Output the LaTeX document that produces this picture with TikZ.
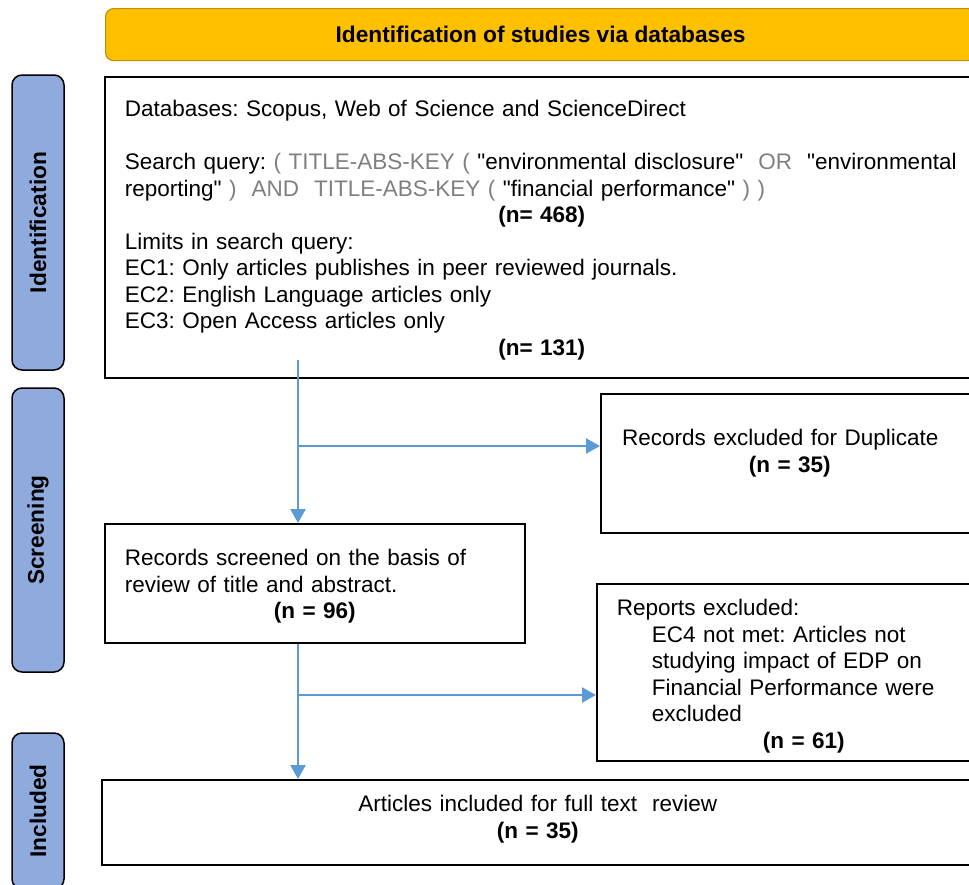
\documentclass[tikz,border=0pt]{standalone}
\usepackage{fontspec}
\setmainfont{Liberation Sans}[Ligatures=TeXOff]
\usepackage{xcolor}
\usetikzlibrary{arrows.meta}

\definecolor{headgold}{HTML}{FFC000}
\definecolor{headedge}{HTML}{BF9000}
\definecolor{stageblue}{HTML}{8FAADC}
\definecolor{flowblue}{HTML}{5B9BD5}
\definecolor{querygrey}{HTML}{7F7F7F}

\begin{document}
\frenchspacing
\hyphenpenalty=10000
\begin{tikzpicture}[x=1pt,y=-1pt,
  font=\fontsize{22.5}{26.5}\selectfont,
  stage/.style={draw=black, line width=1.5pt, fill=stageblue, rounded corners=10pt,
    minimum height=52pt, inner sep=0pt, rotate=90,
    font=\fontsize{22.7}{26.5}\selectfont\bfseries},
  flowbox/.style={draw=black, line width=1.6pt, anchor=north west, inner ysep=0pt, inner xsep=20pt},
  flow/.style={draw=flowblue, line width=2.4pt, -{Triangle[length=14pt,width=15pt]}}]
\useasboundingbox (0,0) rectangle (969,884);

% header
\node (head) [anchor=north west, draw=headedge, line width=1.2pt, fill=headgold, rounded corners=8pt,
  minimum width=870pt, minimum height=52pt, font=\fontsize{22.7}{26.5}\selectfont\bfseries] at (105,8)
  {Identification of studies via databases};

% stages on the left
\node (ident) [stage, minimum width=295pt] at (38,222.5) {Identification};
\node (screening) [stage, minimum width=284pt] at (38,530) {Screening};
\node (included) [stage, minimum width=156pt] at (38,811) {Included};

% boxes
\node (search) [flowbox, text width=834pt, align=left, text height=40pt, text depth=261pt] at (104,76) {
Databases: Scopus, Web of Science and ScienceDirect\\[26.5pt]
\makebox[\linewidth][l]{Search query: {\color{querygrey}( TITLE-ABS-KEY (} "environmental disclosure"\ \ {\color{querygrey}OR}\ \ "environmental}\\
reporting"\ {\color{querygrey})\ \ AND\ \ TITLE-ABS-KEY (} "financial performance"\ {\color{querygrey}) )}\par
\centerline{\textbf{(n= 468)}}
\noindent Limits in search query:\\
EC1: Only articles publishes in peer reviewed journals.\\
EC2: English Language articles only\\
EC3: Open Access articles only\par
\centerline{\textbf{(n= 131)}}};

\node (dup) [flowbox, text width=338pt, align=center, text height=52pt, text depth=87pt] at (600,393) {
\makebox[\linewidth][c]{Records excluded for Duplicate\kern19pt}\\
\textbf{(n = 35)}};

\node (screen) [flowbox, text width=380pt, align=left, text height=42pt, text depth=77pt] at (104,523) {
Records screened on the basis of\\
review of title and abstract.\par
\centerline{\textbf{(n = 96)}}};

\node (reports) [flowbox, text width=374pt, align=left, text height=32pt, text depth=145pt] at (596,583) {
Reports excluded:\\
\hspace*{35pt}EC4 not met: Articles not\\
\hspace*{35pt}studying impact of EDP on\\
\hspace*{35pt}Financial Performance were\\
\hspace*{35pt}excluded\par
\centerline{\textbf{(n = 61)}}};

\node (incl) [flowbox, text width=832pt, align=center, text height=32pt, text depth=53pt] at (101,779) {
Articles included for full text\ \ review\\
\textbf{(n = 35)}};

% connectors
\coordinate (split) at (298,360);
\coordinate (fork1) at (298,446);
\coordinate (fork2) at (298,695);
\draw[flow] (split) -- (split |- screen.north);
\draw[flow] (fork1) -- (fork1 -| dup.west);
\draw[flow] (screen.south -| split) -- (split |- incl.north);
\draw[flow] (fork2) -- (fork2 -| reports.west);
\end{tikzpicture}
\end{document}
